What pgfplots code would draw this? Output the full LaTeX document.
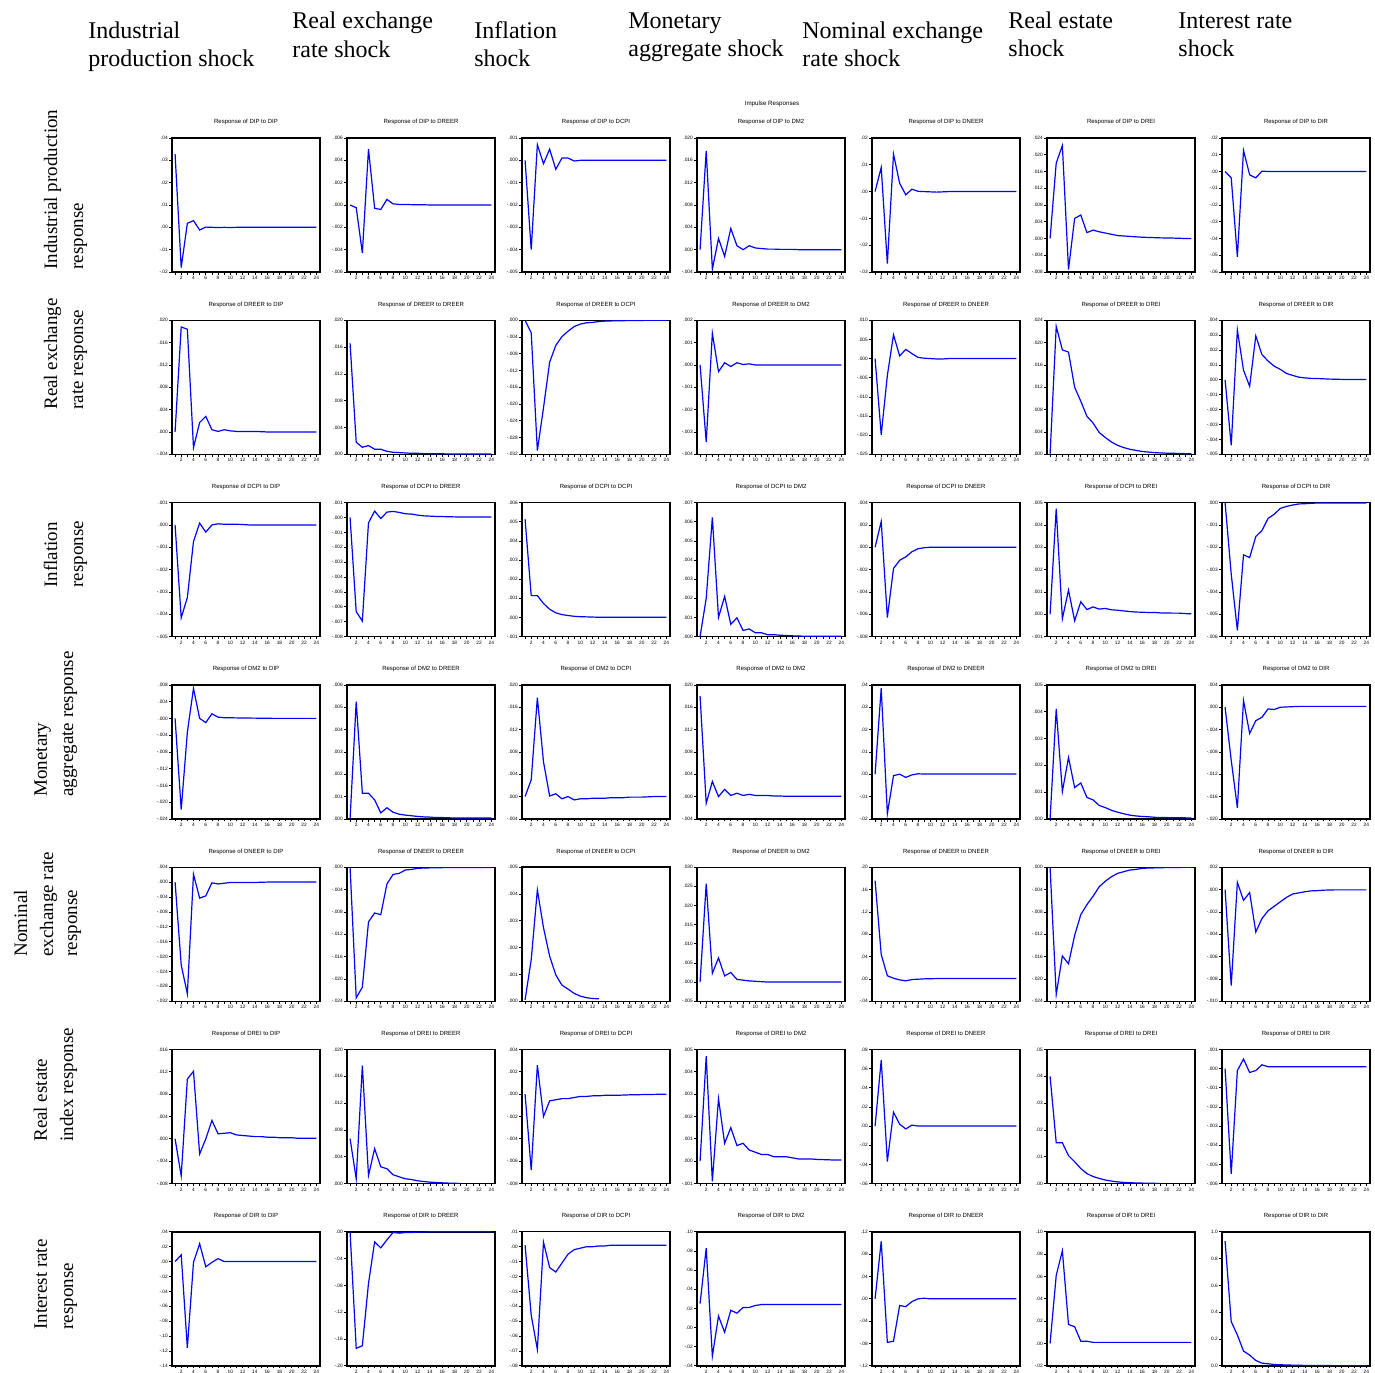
\documentclass[border=0pt]{standalone}
\usepackage{fontspec}
\setmainfont{Liberation Serif}
\newfontfamily\evfont{Liberation Sans}
\usepackage{pgfplots}
\pgfplotsset{compat=1.18}
\pgfplotsset{
 ev/.style={scale only axis,width=74pt,height=67pt,anchor=south west,
  xmin=0.5,xmax=24.6,xtick={2,4,...,24},minor xtick={1,3,...,23},
  xtick pos=left,ytick pos=left,tick align=outside,
  major tick length=1.3pt,minor tick length=1.3pt,
  every tick/.style={black,line width=0.35pt},
  tick label style={font=\evfont\fontsize{2.4}{2.8}\selectfont,inner sep=0.6pt,/pgf/number format/assume math mode=true},
  scaled y ticks=false,
  axis line style={line width=0.7pt},
  title style={font=\evfont\fontsize{3.0}{3.6}\selectfont,at={(0.5,1)},anchor=base,yshift=1pt},
 },
 p1/.style={yticklabel style={/pgf/number format/fixed,/pgf/number format/fixed zerofill,/pgf/number format/precision=1}},
 p2/.style={yticklabel style={/pgf/number format/fixed,/pgf/number format/fixed zerofill,/pgf/number format/precision=2,/pgf/number format/skip 0.}},
 p3/.style={yticklabel style={/pgf/number format/fixed,/pgf/number format/fixed zerofill,/pgf/number format/precision=3,/pgf/number format/skip 0.}},
}
\newcommand{\panel}[8]{%
\pgfmathsetmacro{\px}{86+87.5*#1}%
\pgfmathsetmacro{\py}{550-91.15*#2}%
\begin{axis}[ev,at={(\px pt,\py pt)},title={#3},ymin=#4,ymax=#5,ytick={#6},#7]
\addplot[color={rgb,255:red,0;green,0;blue,255},line width=0.6pt] coordinates {#8};
\end{axis}}
\begin{document}
\begin{tikzpicture}
\path[use as bounding box] (0,0) rectangle (687.5pt,686pt);
% column headers
\begin{scope}[every node/.style={anchor=base west,inner sep=0pt,font=\fontsize{12}{14}\selectfont}]
\node at (44pt,666.5pt) {Industrial};
\node at (44pt,652.5pt) {production shock};
\node at (146pt,671.5pt) {Real exchange};
\node at (146pt,657pt) {rate shock};
\node at (237pt,666.5pt) {Inflation};
\node at (237pt,652.5pt) {shock};
\node at (314pt,671.5pt) {Monetary};
\node at (314pt,657.5pt) {aggregate shock};
\node at (401pt,666.5pt) {Nominal exchange};
\node at (401pt,652.5pt) {rate shock};
\node at (504pt,671.5pt) {Real estate};
\node at (504pt,657.5pt) {shock};
\node at (589pt,671.5pt) {Interest rate};
\node at (589pt,657.5pt) {shock};
\end{scope}
% row labels
\begin{scope}[every node/.style={anchor=base west,rotate=90,inner sep=0pt,font=\fontsize{9.5}{11}\selectfont}]
\node at (28.5pt,551pt) {Industrial production};
\node at (41.5pt,551pt) {response};
\node at (28.5pt,481pt) {Real exchange};
\node at (41.5pt,481pt) {rate response};
\node at (28.5pt,392pt) {Inflation};
\node at (41.5pt,392pt) {response};
\node at (23.5pt,287.5pt) {Monetary};
\node at (36.5pt,287.5pt) {aggregate response};
\node at (13.5pt,207.5pt) {Nominal};
\node at (26.5pt,207.5pt) {exchange rate};
\node at (38.5pt,207.5pt) {response};
\node at (23.5pt,115pt) {Real estate};
\node at (36.5pt,115pt) {index response};
\node at (23.5pt,21pt) {Interest rate};
\node at (36.5pt,21pt) {response};
\end{scope}
\node[font=\evfont\fontsize{3.1}{3.6}\selectfont] at (386pt,634pt) {Impulse Responses};
% ---------- row 1: DIP
\panel{0}{0}{Response of DIP to DIP}{-0.02}{0.04}{-0.02,-0.01,0,0.01,0.02,0.03,0.04}{p2}{(1,.0328)(2,-.018)(3,.0018)(4,.003)(5,-.0012)(6,.0001)(7,0)(8,-.0001)(9,0)(10,-.0001)(11,0)(12,0)(13,0)(14,0)(15,0)(16,0)(17,0)(18,0)(19,0)(20,0)(21,0)(22,0)(23,0)(24,0)}
\panel{1}{0}{Response of  DIP to DREER}{-0.006}{0.006}{-0.006,-0.004,-0.002,0,0.002,0.004,0.006}{p3}{(1,0)(2,-.00024)(3,-.0043)(4,.005)(5,-.0003)(6,-.0004)(7,.0005)(8,.0001)(9,.00005)(10,.00005)(11,.00003)(12,.00003)(13,.00002)(14,0)(15,0)(16,0)(17,0)(18,0)(19,0)(20,0)(21,0)(22,0)(23,0)(24,0)}
\panel{2}{0}{Response of  DIP to DCPI}{-0.005}{0.001}{-0.005,-0.004,-0.003,-0.002,-0.001,0,0.001}{p3}{(1,0)(2,-.004)(3,.0007)(4,-.00015)(5,.0005)(6,-.0004)(7,.0001)(8,.0001)(9,-.00003)(10,0)(11,0)(12,0)(13,0)(14,0)(15,0)(16,0)(17,0)(18,0)(19,0)(20,0)(21,0)(22,0)(23,0)(24,0)}
\panel{3}{0}{Response of DIP to DM2}{-0.004}{0.020}{-0.004,0,0.004,0.008,0.012,0.016,0.020}{p3}{(1,0)(2,.0177)(3,-.0035)(4,.002)(5,-.0012)(6,.0038)(7,.0007)(8,0)(9,.0007)(10,.0003)(11,.0002)(12,.0001)(13,.0001)(14,.00005)(15,.00005)(16,.00005)(17,0)(18,0)(19,0)(20,0)(21,0)(22,0)(23,0)(24,0)}
\panel{4}{0}{Response of  DIP to DNEER}{-0.03}{0.02}{-0.03,-0.02,-0.01,0,0.01,0.02}{p2}{(1,0)(2,.009)(3,-.0269)(4,.014)(5,.0031)(6,-.0012)(7,.0009)(8,.0001)(9,0)(10,-.0001)(11,-.0002)(12,-.0001)(13,0)(14,0)(15,0)(16,0)(17,0)(18,0)(19,0)(20,0)(21,0)(22,0)(23,0)(24,0)}
\panel{5}{0}{Response of  DIP to DREI}{-0.008}{0.024}{-0.008,-0.004,0,0.004,0.008,0.012,0.016,0.020,0.024}{p3}{(1,0)(2,.018)(3,.0222)(4,-.0074)(5,.0048)(6,.0056)(7,.0014)(8,.002)(9,.0016)(10,.0013)(11,.001)(12,.0007)(13,.0006)(14,.0005)(15,.0004)(16,.0003)(17,.00025)(18,.0002)(19,.00015)(20,.00012)(21,.0001)(22,.00005)(23,0)(24,0)}
\panel{6}{0}{Response of DIP to DIR}{-0.06}{0.02}{-0.06,-0.05,-0.04,-0.03,-0.02,-0.01,0,0.01,0.02}{p2}{(1,0)(2,-.0038)(3,-.051)(4,.0126)(5,-.002)(6,-.0038)(7,.0002)(8,0)(9,0)(10,0)(11,0)(12,0)(13,0)(14,0)(15,0)(16,0)(17,0)(18,0)(19,0)(20,0)(21,0)(22,0)(23,0)(24,0)}
% ---------- row 2: DREER
\panel{0}{1}{Response of  DREER to DIP}{-0.004}{0.020}{-0.004,0,0.004,0.008,0.012,0.016,0.020}{p3}{(1,0)(2,.0188)(3,.0184)(4,-.0028)(5,.0017)(6,.0028)(7,.0004)(8,.0001)(9,.0004)(10,.0002)(11,.0001)(12,.0001)(13,.0001)(14,.0001)(15,.00005)(16,0)(17,0)(18,0)(19,0)(20,0)(21,0)(22,0)(23,0)(24,0)}
\panel{1}{1}{Response of  DREER to DREER}{0}{0.020}{0,0.004,0.008,0.012,0.016,0.020}{p3}{(1,.01655)(2,.0018)(3,.00105)(4,.0013)(5,.00075)(6,.00075)(7,.00045)(8,.0003)(9,.00025)(10,.0002)(11,.00015)(12,.00015)(13,.0001)(14,.0001)(15,.00008)(16,.00007)(17,.00006)(18,.00005)(19,.00005)(20,.00004)(21,.00004)(22,.00003)(23,.00003)(24,.00003)}
\panel{2}{1}{Response of  DREER to DCPI}{-0.032}{0}{-0.032,-0.028,-0.024,-0.020,-0.016,-0.012,-0.008,-0.004,0}{p3}{(1,0)(2,-.003)(3,-.0311)(4,-.0209)(5,-.010)(6,-.006)(7,-.0039)(8,-.0026)(9,-.0015)(10,-.0009)(11,-.0006)(12,-.0005)(13,-.0003)(14,-.0002)(15,-.00015)(16,-.0001)(17,-.0001)(18,-.00005)(19,-.00005)(20,-.00003)(21,-.00002)(22,-.00002)(23,-.00002)(24,-.00002)}
\panel{3}{1}{Response of  DREER to DM2}{-0.004}{0.002}{-0.004,-0.003,-0.002,-0.001,0,0.001,0.002}{p3}{(1,0)(2,-.00345)(3,.00142)(4,-.0003)(5,.0001)(6,-.00007)(7,.0001)(8,.00002)(9,.00005)(10,0)(11,0)(12,0)(13,0)(14,0)(15,0)(16,0)(17,0)(18,0)(19,0)(20,0)(21,0)(22,0)(23,0)(24,0)}
\panel{4}{1}{Response of  DREER to DNEER}{-0.025}{0.010}{-0.025,-0.020,-0.015,-0.010,-0.005,0,0.005,0.010}{p3}{(1,0)(2,-.0199)(3,-.0044)(4,.0062)(5,.0007)(6,.0024)(7,.0013)(8,.0003)(9,.0001)(10,0)(11,-.0001)(12,-.0001)(13,0)(14,0)(15,0)(16,0)(17,0)(18,0)(19,0)(20,0)(21,0)(22,0)(23,0)(24,0)}
\panel{5}{1}{Response of  DREER to DREI}{0}{0.024}{0,0.004,0.008,0.012,0.016,0.020,0.024}{p3}{(1,0)(2,.0229)(3,.0187)(4,.0183)(5,.012)(6,.0095)(7,.0068)(8,.0056)(9,.0039)(10,.003)(11,.0022)(12,.0016)(13,.0012)(14,.0009)(15,.0007)(16,.0005)(17,.0004)(18,.0003)(19,.00024)(20,.0002)(21,.00018)(22,.00015)(23,.00012)(24,.0001)}
\panel{6}{1}{Response of  DREER to DIR}{-0.005}{0.004}{-0.005,-0.004,-0.003,-0.002,-0.001,0,0.001,0.002,0.003,0.004}{p3}{(1,0)(2,-.0044)(3,.00335)(4,.00065)(5,-.00043)(6,.00295)(7,.0017)(8,.00126)(9,.00092)(10,.0007)(11,.00043)(12,.0003)(13,.00018)(14,.00013)(15,.0001)(16,.00009)(17,.00007)(18,.00005)(19,.00004)(20,.00003)(21,.00002)(22,.00002)(23,.00002)(24,.00002)}
% ---------- row 3: DCPI
\panel{0}{2}{Response of  DCPI to DIP}{-0.005}{0.001}{-0.005,-0.004,-0.003,-0.002,-0.001,0,0.001}{p3}{(1,0)(2,-.00416)(3,-.00325)(4,-.00074)(5,.00008)(6,-.00032)(7,0)(8,.00005)(9,.00003)(10,.00003)(11,.00003)(12,.00002)(13,0)(14,0)(15,0)(16,0)(17,0)(18,0)(19,0)(20,0)(21,0)(22,0)(23,0)(24,0)}
\panel{1}{2}{Response of  DCPI to DREER}{-0.008}{0.001}{-0.008,-0.007,-0.006,-0.005,-0.004,-0.003,-0.002,-0.001,0,0.001}{p3}{(1,0)(2,-.00633)(3,-.00695)(4,-.00036)(5,.00043)(6,-.00007)(7,.00036)(8,.00041)(9,.00034)(10,.00025)(11,.00023)(12,.00016)(13,.00011)(14,.00009)(15,.00007)(16,.00006)(17,.00005)(18,.00004)(19,.00003)(20,.00003)(21,.00003)(22,.00003)(23,.00003)(24,.00003)}
\panel{2}{2}{Response of  DCPI to DCPI}{-0.001}{0.006}{-0.001,0,0.001,0.002,0.003,0.004,0.005,0.006}{p3}{(1,.00513)(2,.00114)(3,.00114)(4,.00073)(5,.00043)(6,.00024)(7,.00015)(8,.0001)(9,.00006)(10,.00004)(11,.00003)(12,.00002)(13,.00001)(14,.00001)(15,.00001)(16,.00001)(17,.00001)(18,.00001)(19,.00001)(20,.00001)(21,.00001)(22,.00001)(23,.00001)(24,.00001)}
\panel{3}{2}{Response of  DCPI to DM2}{0}{0.007}{0,0.001,0.002,0.003,0.004,0.005,0.006,0.007}{p3}{(1,0)(2,.002)(3,.00622)(4,.001)(5,.0021)(6,.00064)(7,.00098)(8,.00032)(9,.0004)(10,.0002)(11,.0002)(12,.0001)(13,.0001)(14,.00007)(15,.00006)(16,.00004)(17,.00003)(18,.00002)(19,.00002)(20,.00002)(21,.00002)(22,.00002)(23,.00002)(24,.00002)}
\panel{4}{2}{Response of  DCPI to DNEER}{-0.008}{0.004}{-0.008,-0.006,-0.004,-0.002,0,0.002,0.004}{p3}{(1,0)(2,.0023)(3,-.0063)(4,-.0019)(5,-.00117)(6,-.00086)(7,-.0004)(8,-.00013)(9,-.00004)(10,0)(11,0)(12,0)(13,0)(14,0)(15,0)(16,0)(17,0)(18,0)(19,0)(20,0)(21,0)(22,0)(23,0)(24,0)}
\panel{5}{2}{Response of  DCPI to DREI}{-0.001}{0.005}{-0.001,0,0.001,0.002,0.003,0.004,0.005}{p3}{(1,0)(2,.00473)(3,-.0002)(4,.00108)(5,-.00029)(6,.00056)(7,.00021)(8,.00033)(9,.00023)(10,.00026)(11,.0002)(12,.00018)(13,.00015)(14,.00012)(15,.0001)(16,.00009)(17,.00008)(18,.00008)(19,.00006)(20,.00006)(21,.00005)(22,.00005)(23,.00003)(24,.00002)}
\panel{6}{2}{Response of  DCPI to DIR}{-0.006}{0}{-0.006,-0.005,-0.004,-0.003,-0.002,-0.001,0}{p3}{(1,0)(2,-.0032)(3,-.00572)(4,-.00234)(5,-.00246)(6,-.00152)(7,-.00125)(8,-.00071)(9,-.00052)(10,-.00026)(11,-.00017)(12,-.00011)(13,-.00006)(14,-.00005)(15,-.00003)(16,-.00002)(17,-.00002)(18,-.00002)(19,-.00002)(20,-.00002)(21,-.00002)(22,-.00002)(23,-.00002)(24,-.00002)}
% ---------- row 4: DM2
\panel{0}{3}{Response of DM2 to DIP}{-0.024}{0.008}{-0.024,-0.020,-0.016,-0.012,-0.008,-0.004,0,0.004,0.008}{p3}{(1,0)(2,-.0218)(3,-.0033)(4,.00716)(5,0)(6,-.001)(7,.0011)(8,.0003)(9,.00016)(10,.00015)(11,.00012)(12,.0001)(13,.00008)(14,.00006)(15,.00005)(16,.00004)(17,0)(18,0)(19,0)(20,0)(21,0)(22,0)(23,0)(24,0)}
\panel{1}{3}{Response of  DM2 to DREER}{0}{0.006}{0,0.001,0.002,0.003,0.004,0.005,0.006}{p3}{(1,0)(2,.00525)(3,.00115)(4,.00115)(5,.00085)(6,.00027)(7,.0005)(8,.0003)(9,.00021)(10,.00017)(11,.00014)(12,.00011)(13,.00009)(14,.00008)(15,.00006)(16,.00006)(17,.00005)(18,.00004)(19,.00004)(20,.00004)(21,.00004)(22,.00004)(23,.00004)(24,.00004)}
\panel{2}{3}{Response of DM2 to DCPI}{-0.004}{0.020}{-0.004,0,0.004,0.008,0.012,0.016,0.020}{p3}{(1,0)(2,.003)(3,.0177)(4,.0062)(5,.0001)(6,.0005)(7,-.0004)(8,0)(9,-.0006)(10,-.0004)(11,-.0004)(12,-.0003)(13,-.0003)(14,-.0003)(15,-.0002)(16,-.0002)(17,-.0002)(18,-.0001)(19,-.0001)(20,-.0001)(21,-.00005)(22,0)(23,0)(24,0)}
\panel{3}{3}{Response of DM2 to DM2}{-0.004}{0.020}{-0.004,0,0.004,0.008,0.012,0.016,0.020}{p3}{(1,.018)(2,-.0012)(3,.0027)(4,0)(5,.0013)(6,.0002)(7,.0006)(8,.0002)(9,.0004)(10,.0002)(11,.0002)(12,.0002)(13,.0001)(14,.0001)(15,.00005)(16,.00005)(17,.00005)(18,.00005)(19,.00005)(20,.00005)(21,.00005)(22,.00005)(23,.00005)(24,.00005)}
\panel{4}{3}{Response of  DM2 to DNEER}{-0.02}{0.04}{-0.02,-0.01,0,0.01,0.02,0.03,0.04}{p2}{(1,0)(2,.0385)(3,-.0177)(4,-.0006)(5,0)(6,-.0014)(7,-.0003)(8,.0002)(9,.0001)(10,.0001)(11,.0001)(12,.0001)(13,.0001)(14,.0001)(15,.0001)(16,.0001)(17,.0001)(18,.0001)(19,.0001)(20,.0001)(21,.0001)(22,.0001)(23,.0001)(24,.0001)}
\panel{5}{3}{Response of DM2 to DREI}{0}{0.005}{0,0.001,0.002,0.003,0.004,0.005}{p3}{(1,0)(2,.0041)(3,.00102)(4,.00229)(5,.00117)(6,.00134)(7,.0008)(8,.00071)(9,.0005)(10,.00042)(11,.00032)(12,.00025)(13,.00019)(14,.00014)(15,.00011)(16,.00009)(17,.00008)(18,.00006)(19,.00005)(20,.00005)(21,.00004)(22,.00004)(23,.00004)(24,.00003)}
\panel{6}{3}{Response of DM2 to DIR}{-0.020}{0.004}{-0.020,-0.016,-0.012,-0.008,-0.004,0,0.004}{p3}{(1,0)(2,-.0095)(3,-.018)(4,.0012)(5,-.0047)(6,-.0024)(7,-.0018)(8,-.0003)(9,-.0004)(10,0)(11,.00005)(12,.0001)(13,.00015)(14,.00015)(15,.00015)(16,.00015)(17,.00015)(18,.00015)(19,.00015)(20,.00015)(21,.00015)(22,.00015)(23,.00015)(24,.00015)}
% ---------- row 5: DNEER
\panel{0}{4}{Response of  DNEER to DIP}{-0.032}{0.004}{-0.032,-0.028,-0.024,-0.020,-0.016,-0.012,-0.008,-0.004,0,0.004}{p3}{(1,0)(2,-.0223)(3,-.030)(4,.0021)(5,-.0043)(6,-.0037)(7,-.0002)(8,-.0005)(9,-.0003)(10,-.0001)(11,-.0001)(12,-.0001)(13,-.0001)(14,-.0001)(15,-.00005)(16,0)(17,0)(18,0)(19,0)(20,0)(21,0)(22,0)(23,0)(24,0)}
\panel{1}{4}{Response of  DNEER to DREER}{-0.024}{0}{-0.024,-0.020,-0.016,-0.012,-0.008,-0.004,0}{p3}{(1,0)(2,-.0234)(3,-.0215)(4,-.0098)(5,-.0082)(6,-.0085)(7,-.003)(8,-.0013)(9,-.0011)(10,-.0005)(11,-.0004)(12,-.0002)(13,-.00015)(14,-.00012)(15,-.0001)(16,-.00008)(17,-.00006)(18,-.00005)(19,-.00004)(20,-.00004)(21,-.00004)(22,-.00004)(23,-.00004)(24,-.00004)}
\panel{2}{4}{Response of  DNEER to DCPI}{0}{0.005}{0,0.001,0.002,0.003,0.004,0.005}{p3}{(1,.00005)(2,.00155)(3,.00415)(4,.00274)(5,.00168)(6,.00098)(7,.0006)(8,.00045)(9,.00029)(10,.00019)(11,.00013)(12,.0001)(13,.00009)}
\panel{3}{4}{Response of DNEER to DM2}{-0.005}{0.030}{-0.005,0,0.005,0.010,0.015,0.020,0.025,0.030}{p3}{(1,0)(2,.0257)(3,.0023)(4,.0063)(5,.0016)(6,.0025)(7,.0007)(8,.0005)(9,.0003)(10,.0002)(11,.0001)(12,0)(13,0)(14,0)(15,0)(16,0)(17,0)(18,0)(19,0)(20,0)(21,0)(22,0)(23,0)(24,0)}
\panel{4}{4}{Response of  DNEER to DNEER}{-0.04}{0.20}{-0.04,0,0.04,0.08,0.12,0.16,0.20}{p2}{(1,.1758)(2,.0436)(3,.0055)(4,.0012)(5,-.0018)(6,-.0036)(7,-.0012)(8,-.0006)(9,0)(10,.0003)(11,.0005)(12,.0005)(13,.0005)(14,.0005)(15,.0005)(16,.0005)(17,.0005)(18,.0005)(19,.0005)(20,.0005)(21,.0005)(22,.0005)(23,.0005)(24,.0005)}
\panel{5}{4}{Response of  DNEER to DREI}{-0.024}{0}{-0.024,-0.020,-0.016,-0.012,-0.008,-0.004,0}{p3}{(1,0)(2,-.0228)(3,-.0159)(4,-.0173)(5,-.0122)(6,-.0085)(7,-.0067)(8,-.0052)(9,-.0035)(10,-.0025)(11,-.0017)(12,-.0011)(13,-.0008)(14,-.0005)(15,-.0004)(16,-.0002)(17,-.00015)(18,-.00012)(19,-.0001)(20,-.00006)(21,-.00005)(22,-.00004)(23,-.00003)(24,-.00003)}
\panel{6}{4}{Response of  DNEER to DIR}{-0.010}{0.002}{-0.010,-0.008,-0.006,-0.004,-0.002,0,0.002}{p3}{(1,0)(2,-.0086)(3,.00064)(4,-.00097)(5,-.00027)(6,-.0038)(7,-.0026)(8,-.0019)(9,-.0015)(10,-.0011)(11,-.0007)(12,-.0004)(13,-.0003)(14,-.0002)(15,-.00012)(16,-.0001)(17,-.00006)(18,-.00004)(19,-.00003)(20,-.00003)(21,-.00003)(22,-.00003)(23,-.00003)(24,-.00003)}
% ---------- row 6: DREI
\panel{0}{5}{Response of  DREI to DIP}{-0.008}{0.016}{-0.008,-0.004,0,0.004,0.008,0.012,0.016}{p3}{(1,0)(2,-.0066)(3,.0107)(4,.0121)(5,-.0027)(6,0)(7,.0033)(8,.0009)(9,.001)(10,.0011)(11,.0007)(12,.0006)(13,.0005)(14,.0004)(15,.0004)(16,.0003)(17,.0003)(18,.0002)(19,.0002)(20,.0002)(21,.0001)(22,.0001)(23,.0001)(24,.0001)}
\panel{1}{5}{Response of  DREI to DREER}{0}{0.020}{0,0.004,0.008,0.012,0.016,0.020}{p3}{(1,.0067)(2,.0007)(3,.0176)(4,.0012)(5,.0052)(6,.0025)(7,.0022)(8,.0013)(9,.001)(10,.0007)(11,.0006)(12,.0004)(13,.0003)(14,.0002)(15,.00015)(16,.0001)(17,.00006)(18,.00003)(19,.00001)}
\panel{2}{5}{Response of  DREI to DCPI}{-0.008}{0.004}{-0.008,-0.006,-0.004,-0.002,0,0.002,0.004}{p3}{(1,0)(2,-.0068)(3,.0026)(4,-.002)(5,-.0006)(6,-.0005)(7,-.0004)(8,-.0004)(9,-.0003)(10,-.0002)(11,-.0002)(12,-.00015)(13,-.00015)(14,-.0001)(15,-.0001)(16,-.0001)(17,-.00008)(18,-.00006)(19,-.00005)(20,-.00004)(21,-.00003)(22,-.00002)(23,-.00001)(24,0)}
\panel{3}{5}{Response of  DREI to DM2}{-0.001}{0.005}{-0.001,0,0.001,0.002,0.003,0.004,0.005}{p3}{(1,0)(2,.0047)(3,-.0009)(4,.0028)(5,.0008)(6,.0015)(7,.0007)(8,.0008)(9,.0005)(10,.0004)(11,.0003)(12,.0003)(13,.0002)(14,.0002)(15,.0002)(16,.00015)(17,.0001)(18,.0001)(19,.0001)(20,.00008)(21,.00007)(22,.00006)(23,.00005)(24,.00005)}
\panel{4}{5}{Response of  DREI to DNEER}{-0.06}{0.08}{-0.06,-0.04,-0.02,0,0.02,0.04,0.06,0.08}{p2}{(1,0)(2,.069)(3,-.037)(4,.0145)(5,.002)(6,-.003)(7,.001)(8,0)(9,0)(10,0)(11,0)(12,0)(13,0)(14,0)(15,0)(16,0)(17,0)(18,0)(19,0)(20,0)(21,0)(22,0)(23,0)(24,0)}
\panel{5}{5}{Response of  DREI to DREI}{0}{0.05}{0,0.01,0.02,0.03,0.04,0.05}{p2}{(1,.040)(2,.0152)(3,.0152)(4,.0104)(5,.0081)(6,.0056)(7,.0037)(8,.0026)(9,.0019)(10,.0013)(11,.0009)(12,.0006)(13,.0004)(14,.0003)(15,.0002)(16,.00015)(17,.0001)(18,.00006)(19,.00003)}
\panel{6}{5}{Response of  DREI to DIR}{-0.006}{0.001}{-0.006,-0.005,-0.004,-0.003,-0.002,-0.001,0,0.001}{p3}{(1,0)(2,-.0055)(3,-.0001)(4,.0005)(5,-.0002)(6,-.0001)(7,.0002)(8,.0001)(9,.0001)(10,.0001)(11,.0001)(12,.0001)(13,.0001)(14,.0001)(15,.0001)(16,.0001)(17,.0001)(18,.0001)(19,.0001)(20,.0001)(21,.0001)(22,.0001)(23,.0001)(24,.0001)}
% ---------- row 7: DIR
\panel{0}{6}{Response of  DIR to DIP}{-0.14}{0.04}{-0.14,-0.12,-0.10,-0.08,-0.06,-0.04,-0.02,0,0.02,0.04}{p2}{(1,0)(2,.009)(3,-.116)(4,-.001)(5,.024)(6,-.007)(7,-.001)(8,.004)(9,0)(10,0)(11,0)(12,0)(13,0)(14,0)(15,0)(16,0)(17,0)(18,0)(19,0)(20,0)(21,0)(22,0)(23,0)(24,0)}
\panel{1}{6}{Response of  DIR to DREER}{-0.20}{0}{-0.20,-0.16,-0.12,-0.08,-0.04,0}{p2}{(1,0)(2,-.174)(3,-.170)(4,-.077)(5,-.015)(6,-.024)(7,-.012)(8,-.001)(9,-.002)(10,-.001)(11,-.001)(12,-.0005)(13,-.0005)(14,0)(15,0)(16,0)(17,0)(18,0)(19,0)(20,0)(21,0)(22,0)(23,0)(24,0)}
\panel{2}{6}{Response of  DIR to DCPI}{-0.08}{0.01}{-0.08,-0.07,-0.06,-0.05,-0.04,-0.03,-0.02,-0.01,0,0.01}{p2}{(1,.001)(2,-.046)(3,-.069)(4,.003)(5,-.014)(6,-.017)(7,-.011)(8,-.005)(9,-.002)(10,-.001)(11,0)(12,0)(13,.0005)(14,.0005)(15,.001)(16,.001)(17,.001)(18,.001)(19,.001)(20,.001)(21,.001)(22,.001)(23,.001)(24,.001)}
\panel{3}{6}{Response of  DIR to DM2}{-0.04}{0.10}{-0.04,-0.02,0,0.02,0.04,0.06,0.08,0.10}{p2}{(1,.025)(2,.083)(3,-.030)(4,.012)(5,-.005)(6,.018)(7,.015)(8,.021)(9,.021)(10,.023)(11,.024)(12,.024)(13,.024)(14,.024)(15,.024)(16,.024)(17,.024)(18,.024)(19,.024)(20,.024)(21,.024)(22,.024)(23,.024)(24,.024)}
\panel{4}{6}{Response of  DIR to DNEER}{-0.12}{0.12}{-0.12,-0.08,-0.04,0,0.04,0.08,0.12}{p2}{(1,0)(2,.103)(3,-.078)(4,-.076)(5,-.012)(6,-.014)(7,-.005)(8,0)(9,.001)(10,0)(11,0)(12,0)(13,0)(14,0)(15,0)(16,0)(17,0)(18,0)(19,0)(20,0)(21,0)(22,0)(23,0)(24,0)}
\panel{5}{6}{Response of  DIR to DREI}{-0.02}{0.10}{-0.02,0,0.02,0.04,0.06,0.08,0.10}{p2}{(1,0)(2,.061)(3,.083)(4,.017)(5,.015)(6,.002)(7,.002)(8,.001)(9,.001)(10,.001)(11,.001)(12,.001)(13,.001)(14,.001)(15,.001)(16,.001)(17,.001)(18,.001)(19,.001)(20,.001)(21,.001)(22,.001)(23,.001)(24,.001)}
\panel{6}{6}{Response of  DIR to DIR}{0}{1.0}{0,0.2,0.4,0.6,0.8,1.0}{p1}{(1,.93)(2,.33)(3,.23)(4,.11)(5,.08)(6,.04)(7,.02)(8,.015)(9,.01)(10,.008)(11,.006)(12,.005)(13,.004)(14,.003)(15,.003)(16,.002)(17,.002)(18,.002)(19,.001)(20,.001)(21,.001)(22,.001)(23,.001)(24,.001)}
\end{tikzpicture}
\end{document}
